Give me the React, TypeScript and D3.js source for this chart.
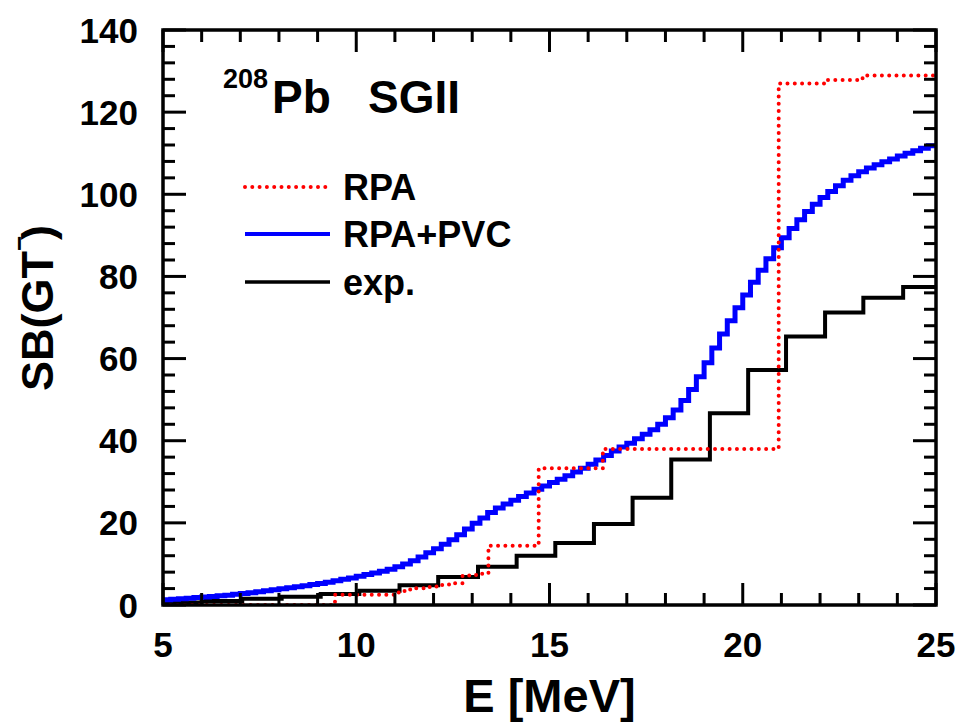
import React from "react";
import * as d3 from "d3";

// ---------- data ----------
const xTicks = [5, 10, 15, 20, 25];
const yTicks = [0, 20, 40, 60, 80, 100, 120, 140];

// RPA+PVC cumulative sum, 0.2 MeV bins starting at 5 MeV
const pvcStart = 5;
const pvcBin = 0.2;
const pvcValues = [
  1.3, 1.4, 1.5, 1.65, 1.8, 1.95, 2.1, 2.25, 2.4, 2.6,
  2.8, 3.0, 3.25, 3.5, 3.7, 3.95, 4.2, 4.45, 4.7, 5.0,
  5.25, 5.55, 5.9, 6.25, 6.6, 7.0, 7.4, 7.8, 8.2, 8.7,
  9.3, 10.0, 10.8, 11.7, 12.7, 13.7, 14.8, 15.9, 17.1, 18.5,
  19.9, 21.2, 22.5, 23.6, 24.6, 25.5, 26.4, 27.3, 28.2, 29.0,
  29.8, 30.6, 31.5, 32.4, 33.3, 34.3, 35.3, 36.4, 37.5, 38.5,
  39.4, 40.5, 41.6, 42.7, 44.0, 45.6, 47.5, 49.8, 52.5, 55.6,
  59.0, 62.6, 66.0, 69.2, 72.4, 75.5, 78.6, 81.5, 84.3, 87.0,
  89.4, 91.7, 93.8, 95.8, 97.6, 99.2, 100.7, 102.1, 103.4, 104.5,
  105.5, 106.4, 107.2, 107.9, 108.6, 109.3, 110.0, 110.6, 111.2, 111.8,
];

// RPA cumulative sum: step energies and values
const rpaE = [5.0, 9.45, 11.1, 11.25, 11.45, 11.9, 12.15, 12.4, 12.75, 13.1, 13.42, 14.72, 16.38, 20.93, 22.15, 23.1];
const rpaV = [0, 2.5, 3.1, 3.8, 4.1, 4.5, 4.9, 5.3, 7.2, 7.6, 14.4, 33.3, 38.0, 127.0, 127.8, 128.9];

// experimental cumulative sum
const expE = [5.0, 6.0, 7.05, 8.07, 9.08, 10.08, 11.12, 12.12, 13.15, 14.15, 15.15, 16.15, 17.15, 18.15, 19.15, 20.14, 21.12, 22.13, 23.12, 24.15];
const expV = [0.6, 1.0, 1.5, 2.0, 2.7, 3.5, 4.8, 6.8, 9.3, 12.0, 15.1, 19.7, 26.1, 35.4, 46.7, 57.2, 65.4, 71.2, 74.8, 77.4];

const legendLabels = ["RPA", "RPA+PVC", "exp."];

// ---------- layout ----------
const W = 960, H = 723;
const L = 163, R = 936, T = 30, B = 605;
const FONT = "'Liberation Sans', Arial, Helvetica, sans-serif";

export default function App() {
  const x = d3.scaleLinear().domain([5, 25]).range([L, R]);
  const y = d3.scaleLinear().domain([0, 140]).range([B, T]);

  const line = d3
    .line<[number, number]>()
    .x((d) => x(d[0]))
    .y((d) => y(d[1]))
    .curve(d3.curveStepAfter);

  const pvcPts: [number, number][] = pvcValues.map((v, i) => [pvcStart + i * pvcBin, v]);
  pvcPts.push([25, pvcValues[pvcValues.length - 1]]);
  const rpaPts: [number, number][] = rpaE.map((e, i) => [e, rpaV[i]]);
  rpaPts.push([25, rpaV[rpaV.length - 1]]);
  const expPts: [number, number][] = expE.map((e, i) => [e, expV[i]]);
  expPts.push([25, expV[expV.length - 1]]);

  const xMinor = d3.range(5, 25.001, 1);
  const yMinor = d3.range(0, 140.001, 4);

  const legendY = [187, 234, 282];
  const legendStyles = [
    { stroke: "#ff0000", dash: "0 7.3", w: 4, cap: "round" as const },
    { stroke: "#0000ff", dash: undefined, w: 4, cap: "butt" as const },
    { stroke: "#000000", dash: undefined, w: 3.5, cap: "butt" as const },
  ];

  return (
    <svg
      width={W}
      height={H}
      style={{ position: "absolute", left: 0, top: 0, background: "#fff" }}
      fontFamily={FONT}
      fontWeight="bold"
    >
      <defs>
        <clipPath id="plotclip">
          <rect x={L} y={T - 2} width={R - L} height={B - T + 2} />
        </clipPath>
      </defs>

      {/* data */}
      <g clipPath="url(#plotclip)">
        <path d={line(expPts) || ""} fill="none" stroke="#000" strokeWidth={4} />
        <path d={line(pvcPts) || ""} fill="none" stroke="#0000ff" strokeWidth={5} />
        <path
          d={line(rpaPts) || ""}
          fill="none"
          stroke="#ff0000"
          strokeWidth={4}
          strokeDasharray="0 7.3"
          strokeLinecap="round"
        />
      </g>

      {/* ticks */}
      {xMinor.map((v) => {
        const major = xTicks.includes(v);
        const len = major ? 22 : 12;
        return (
          <g key={"xt" + v} stroke="#000" strokeWidth={3}>
            <line x1={x(v)} x2={x(v)} y1={B} y2={B - len} />
            <line x1={x(v)} x2={x(v)} y1={T} y2={T + len} />
          </g>
        );
      })}
      {yMinor.map((v) => {
        const major = yTicks.includes(v);
        const len = major ? 23 : 12;
        return (
          <g key={"yt" + v} stroke="#000" strokeWidth={3}>
            <line x1={L} x2={L + len} y1={y(v)} y2={y(v)} />
            <line x1={R} x2={R - len} y1={y(v)} y2={y(v)} />
          </g>
        );
      })}

      {/* frame */}
      <rect x={L} y={T} width={R - L} height={B - T} fill="none" stroke="#000" strokeWidth={3.5} />

      {/* tick labels */}
      {yTicks.map((v) => (
        <text key={"yl" + v} x={138} y={y(v) + 12.5} fontSize={35} textAnchor="end">
          {v}
        </text>
      ))}
      {xTicks.map((v) => (
        <text key={"xl" + v} x={x(v)} y={657} fontSize={35} textAnchor="middle">
          {v}
        </text>
      ))}

      {/* axis titles */}
      <text x={(L + R) / 2} y={712} fontSize={47} textAnchor="middle">
        E [MeV]
      </text>
      <text transform="translate(53,308) rotate(-90)" fontSize={45} textAnchor="middle">
        <tspan>SB(GT</tspan>
        <tspan fontSize={26} dx={0} dy={-25}>−</tspan>
        <tspan dx={-4} dy={25}>)</tspan>
      </text>

      {/* title */}
      <text x={223} y={88} fontSize={27}>208</text>
      <text x={272} y={113} fontSize={46}>Pb</text>
      <text x={368} y={113} fontSize={46}>SGII</text>

      {/* legend */}
      {legendLabels.map((lab, i) => (
        <g key={lab}>
          <line
            x1={245}
            x2={330}
            y1={legendY[i]}
            y2={legendY[i]}
            stroke={legendStyles[i].stroke}
            strokeWidth={legendStyles[i].w}
            strokeDasharray={legendStyles[i].dash}
            strokeLinecap={legendStyles[i].cap}
          />
          <text x={343} y={legendY[i] + 13} fontSize={36}>
            {lab}
          </text>
        </g>
      ))}
    </svg>
  );
}
